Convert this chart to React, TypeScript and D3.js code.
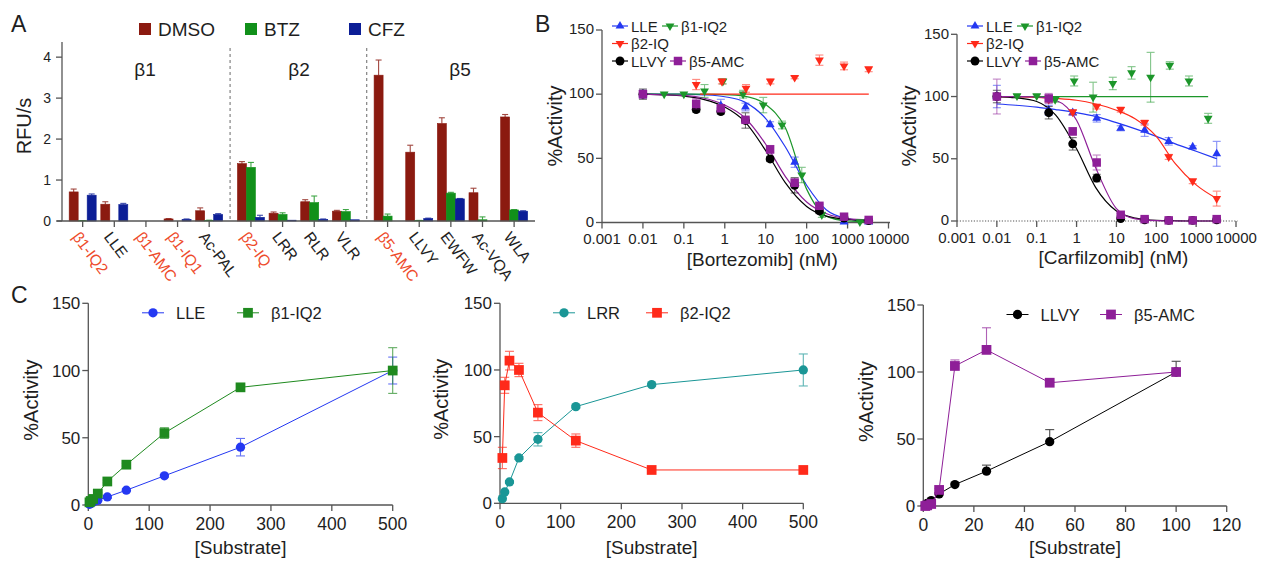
import React from "react";
import * as d3 from "d3";

const FONT = "'Liberation Sans', Arial, Helvetica, sans-serif";
const AXIS = "#555";
const INK = "#1e1e1e";

// ---------- panel A : substrate turnover ----------
const substrates = ["β1-IQ2", "LLE", "β1-AMC", "β1-IQ1", "Ac-PAL", "β2-IQ", "LRR", "RLR", "VLR", "β5-AMC", "LLVY", "EWFW", "Ac-VQA", "WLA"];
const highlighted = ["β1-IQ2", "β1-AMC", "β1-IQ1", "β2-IQ", "β5-AMC"];
const substrateSite = [0, 0, 0, 0, 0, 1, 1, 1, 1, 2, 2, 2, 2, 2];
const sites = ["β1", "β2", "β5"];
const treatments = ["DMSO", "BTZ", "CFZ"];
const treatmentColors = ["#8b1a10", "#11901a", "#0c1e96"];
const dmsoRate = [0.71, 0.41, 0, 0.05, 0.25, 1.4, 0.19, 0.47, 0.24, 3.56, 1.68, 2.38, 0.69, 2.54];
const dmsoErr = [0.07, 0.06, 0, 0.01, 0.07, 0.05, 0.03, 0.05, 0.02, 0.37, 0.17, 0.14, 0.11, 0.06];
const btzRate = [0.005, 0, 0, 0, 0.01, 1.31, 0.16, 0.45, 0.23, 0.12, 0.01, 0.68, 0.03, 0.27];
const btzErr = [0.005, 0, 0, 0, 0.01, 0.12, 0.04, 0.16, 0.05, 0.05, 0.005, 0.02, 0.07, 0.01];
const cfzRate = [0.63, 0.4, 0, 0.04, 0.16, 0.09, 0.02, 0.04, 0.03, 0, 0.06, 0.54, 0, 0.24];
const cfzErr = [0.03, 0.03, 0, 0.01, 0.02, 0.05, 0, 0.01, 0, 0, 0.01, 0.01, 0, 0.01];
const rateTicks = [0, 1, 2, 3, 4];

// ---------- panel B : dose response ----------
const doseTicks = [0.001, 0.01, 0.1, 1, 10, 100, 1000, 10000];
const activityTicks = [0, 50, 100, 150];
const fitGrid = [0.01, 0.03, 0.1, 0.3, 1, 3, 10, 30, 100, 300, 1000, 3300];

const bortConc = [0.01, 0.2, 0.8, 3.2, 12.8, 51, 205, 820, 3280];
const btzLleConc = [0.01, 0.8, 3.2, 12.8, 51, 205, 820, 3280];
const btzLle = [100, 91, 90, 76.5, 47, 12, 0.5, 0.5];
const btzLleErr = [3, 5, 3, 2, 4, 2, 1, 1];
const btzIq2Conc = [0.033, 0.1, 0.32, 0.9, 2.8, 8.7, 25, 76, 235, 2000];
const btzIq2 = [100, 100, 102.5, 110, 100, 91.5, 76, 37, 6, 0.5];
const btzIq2Err = [0.5, 0.5, 5, 2, 3, 6, 3, 6, 2, 0.5];
const btzB2Conc = [0.2, 0.85, 3.3, 13, 51, 205, 820, 3280];
const btzB2 = [107.5, 110, 104.5, 110, 113, 126.5, 122, 119.5];
const btzB2Err = [4, 2, 3, 2, 1, 4, 3, 2];
const btzLlvy = [100, 88, 86.5, 79.5, 49.5, 29, 9, 3.5, 1.5];
const btzLlvyErr = [4, 2, 2, 6, 2, 6, 2, 2, 1];
const btzB5 = [100, 92.5, 89, 80, 57, 31, 13, 4.5, 2];
const btzB5Err = [3, 4, 2, 2, 3, 3, 2, 1, 1];
const btzLleFit = [100, 100, 100, 99.5, 98, 94, 81, 59, 29, 10, 3, 1];
const btzIq2Fit = [100, 100, 100, 100, 99.7, 98.5, 92, 74, 26, 5, 1.2, 0.5];
const btzLlvyFit = [100, 99.5, 98.5, 96, 90, 79, 56, 31, 12.5, 5, 2.5, 1.5];
const btzB5Fit = [100, 99.5, 99, 97, 91.5, 82, 61, 36, 16, 7, 3, 2];
const btzB2FitX = [0.25, 3300];
const btzB2FitY = [100, 100];

const cfzConc = [0.01, 0.2, 0.8, 3.2, 12.8, 51, 205, 820, 3280];
const cfzLle = [100, 89, 87, 82.5, 74.5, 73, 64, 59.5, 54];
const cfzLleErr = [9, 4, 2, 3, 2, 5, 3, 1, 10];
const cfzB2Conc = [0.2, 0.8, 3.2, 12.8, 51, 205, 820, 3280];
const cfzB2 = [97.5, 87.5, 92, 89.5, 79, 51.5, 32, 18];
const cfzB2Err = [2, 2, 2, 2, 2, 2, 2, 6];
const cfzIq2Conc = [0.032, 0.1, 0.29, 0.87, 2.6, 8.1, 24, 72, 218, 660, 2000];
const cfzIq2 = [100.5, 100.5, 97.5, 112.5, 99.5, 110.5, 119, 115.5, 125, 112.5, 82.5];
const cfzIq2Err = [1, 1, 2, 4, 12, 5, 5, 20, 3, 4, 4];
const cfzLlvy = [100, 87, 62, 34.5, 2, 1, 0.5, 0.5, 1];
const cfzLlvyErr = [5, 5, 5, 3, 1, 1, 0.5, 0.5, 0.5];
const cfzB5 = [100, 98.5, 72, 47, 5, 1.5, 0.5, 0.5, 1.5];
const cfzB5Err = [14, 4, 3, 6, 1, 1, 0.5, 0.5, 1];
const cfzLleFit = [94, 93, 91.5, 89.5, 87, 84, 79, 74, 68, 62, 56, 50];
const cfzB2Fit = [100, 99.7, 99.3, 98.5, 97, 94, 89, 82, 68, 46, 29, 18];
const cfzLlvyFit = [100, 99, 96, 85, 58, 27, 8, 2.3, 0.5, 0.2, 0, 0];
const cfzB5Fit = [100, 100, 99.7, 97, 81, 43, 10, 1.7, 0.3, 0, 0, 0];
const cfzIq2FitX = [0.01, 2000];
const cfzIq2FitY = [100, 100];

// ---------- panel C : substrate titration ----------
const subTicks500 = [0, 100, 200, 300, 400, 500];
const subTicks120 = [0, 20, 40, 60, 80, 100, 120];
const c1Conc = [1.95, 3.9, 7.8, 15.6, 31.25, 62.5, 125, 250, 500];
const c1Lle = [0.5, 1, 2, 3.5, 6, 11, 21.7, 43, 100];
const c1LleErr = [0, 0, 0, 0.5, 1, 1, 1, 6.5, 10];
const c1Iq2 = [2, 3, 4.5, 8.5, 17.5, 30, 53.5, 87.5, 100];
const c1Iq2Err = [0, 0, 0, 1, 1, 1, 4, 2, 17];
const c2Conc = [3.9, 7.8, 15.6, 31.25, 62.5, 125, 250, 500];
const c2Lrr = [3.5, 8.5, 16, 34, 48, 72.5, 89, 100];
const c2LrrErr = [0, 0, 1, 1, 5, 1, 1, 12];
const c2B2 = [34, 88.5, 107, 100, 68, 47, 25, 25];
const c2B2Err = [8, 6, 7, 5, 6, 5, 0.5, 0.5];
const c3Conc = [0.78, 1.56, 3.125, 6.25, 12.5, 25, 50, 100];
const c3Llvy = [0.5, 2, 4, 9, 16, 26, 48, 100];
const c3LlvyErr = [0, 0, 0.5, 1, 1, 4.5, 9, 8];
const c3B5 = [0, 0.5, 1.5, 12, 104.5, 116.5, 92, 100];
const c3B5Err = [0, 0, 0, 1, 4.5, 16.5, 1, 1];

const BLUE = "#2438f2";
const GREEN = "#1c962a";
const RED = "#ff2a1a";
const BLACK = "#000";
const PURPLE = "#8e1f98";
const TEAL = "#1a9696";

const zip = (a: number[], b: number[]) => a.map((v, i) => [v, b[i]] as [number, number]);

function Marker({ shape, x, y, color, size }: any) {
  const type = shape === "circle" ? d3.symbolCircle : shape === "square" ? d3.symbolSquare : d3.symbolTriangle;
  const path = d3.symbol().type(type).size(size)() as string;
  const rot = shape === "down" ? 180 : 0;
  return <path d={path} transform={`translate(${x},${y}) rotate(${rot})`} fill={color} />;
}

function ErrBar({ x, y0, y1, color, cap = 8, opacity = 0.75 }: any) {
  return (
    <g stroke={color} strokeWidth={1.1} opacity={opacity}>
      <line x1={x} x2={x} y1={y0} y2={y1} />
      <line x1={x - cap / 2} x2={x + cap / 2} y1={y1} y2={y1} />
    </g>
  );
}

function LeftAxis({ scale, ticks, x, fontSize, gap = 8, dy = "0.36em" }: any) {
  const [r0, r1] = scale.range();
  return (
    <g>
      <line x1={x} x2={x} y1={r0} y2={r1} stroke={AXIS} strokeWidth={1.3} />
      {ticks.map((t: number) => (
        <g key={t}>
          <line x1={x - 6} x2={x} y1={scale(t)} y2={scale(t)} stroke={AXIS} strokeWidth={1.3} />
          <text x={x - gap} y={scale(t)} dy={dy} textAnchor="end" fontSize={fontSize} fill={INK}>{t}</text>
        </g>
      ))}
    </g>
  );
}

function BottomAxis({ scale, ticks, y, fontSize, dotted = false, x0, x1, labelGap = 20.5 }: any) {
  return (
    <g>
      <line x1={x0} x2={x1} y1={y} y2={y} stroke={AXIS} strokeWidth={dotted ? 1.2 : 1.3} strokeDasharray={dotted ? "1.2,1.6" : undefined} />
      {ticks.map((t: number) => (
        <g key={t}>
          <line x1={scale(t)} x2={scale(t)} y1={y} y2={y + 6} stroke={AXIS} strokeWidth={1.3} />
          <text x={scale(t)} y={y + labelGap} textAnchor="middle" fontSize={fontSize} fill={INK}>{String(t)}</text>
        </g>
      ))}
    </g>
  );
}

function PanelA() {
  const slot = (i: number) => i + 0.32 * substrateSite[i];
  const x = d3.scaleLinear().domain([-0.78, 14.3]).range([58, 535]);
  const y = d3.scaleLinear().domain([0, 4.37]).range([221, 42]);
  const inner = d3.scaleBand().domain(treatments).range([-13.5, 13.5]);
  const rates = [dmsoRate, btzRate, cfzRate];
  const errs = [dmsoErr, btzErr, cfzErr];
  const dividers = [4, 8].map((i) => x((slot(i) + slot(i + 1)) / 2));
  const siteLabelX = [145, 299, 460];
  const legendX = [139, 245, 349];
  return (
    <g>
      {treatments.map((t, k) => (
        <g key={t}>
          <rect x={legendX[k]} y={23} width={12} height={12} fill={treatmentColors[k]} />
          <text x={legendX[k] + 19} y={36} fontSize={19} fill={INK}>{t}</text>
        </g>
      ))}
      {sites.map((s, k) => (
        <text key={s} x={siteLabelX[k]} y={76} textAnchor="middle" fontSize={19} fill={INK}>{s}</text>
      ))}
      {dividers.map((dx, k) => (
        <line key={k} x1={dx} x2={dx} y1={48} y2={221} stroke="#777" strokeWidth={1.1} strokeDasharray="3,3" />
      ))}
      {substrates.map((s, i) => (
        <g key={s}>
          {treatments.map((t, k) => {
            const bx = x(slot(i)) + (inner(t) as number);
            const v = rates[k][i];
            const e = errs[k][i];
            return (
              <g key={t}>
                {v > 0 && <rect x={bx} y={y(v)} width={inner.bandwidth()} height={y(0) - y(v)} fill={treatmentColors[k]} stroke={treatmentColors[k]} strokeWidth={0.6} />}
                {e > 0 && <ErrBar x={bx + inner.bandwidth() / 2} y0={y(v)} y1={y(v + e)} color={treatmentColors[k]} cap={6} opacity={0.8} />}
              </g>
            );
          })}
        </g>
      ))}
      <LeftAxis scale={y} ticks={rateTicks} x={62} fontSize={14} gap={11} />
      <line x1={57} x2={535} y1={221} y2={221} stroke={AXIS} strokeWidth={1.3} />
      {substrates.map((s, i) => {
        const tx = x(slot(i));
        return (
          <g key={s}>
            <line x1={tx} x2={tx} y1={221} y2={227} stroke={AXIS} strokeWidth={1.3} />
            <text transform={`translate(${tx - 11},${237}) rotate(53)`} fontSize={15.5} fill={highlighted.includes(s) ? "#ee4b2b" : INK}>{s}</text>
          </g>
        );
      })}
      <text transform="translate(31,126) rotate(-90)" textAnchor="middle" fontSize={20} fill={INK}>RFU/s</text>
    </g>
  );
}

const markerSize = (shape: string) => (shape === "circle" ? 62 : shape === "square" ? 72 : 34);

function DosePanel({ series, xRange, yRange, xLabel, dotted, yLabelX, legendRows }: any) {
  const x = d3.scaleLog().domain([0.001, 10000]).range(xRange);
  const y = d3.scaleLinear().domain([0, 150]).range(yRange);
  const line = d3.line<[number, number]>().x((d) => x(d[0])).y((d) => y(d[1])).curve(d3.curveMonotoneX);
  const ax = xRange[0];
  return (
    <g>
      <LeftAxis scale={y} ticks={activityTicks} x={ax} fontSize={15} gap={8} dy="0.28em" />
      <BottomAxis scale={x} ticks={doseTicks} y={yRange[0]} fontSize={15} dotted={dotted} x0={ax} x1={xRange[1] + 1.5} labelGap={21.5} />
      {series.map((s: any) => (
        <path key={s.name + "fit"} d={line(zip(s.fitX, s.fitY)) as string} fill="none" stroke={s.color} strokeWidth={1.2} />
      ))}
      {series.map((s: any) => (
        <g key={s.name}>
          {s.conc.map((c: number, i: number) => (
            <g key={i}>
              {s.err[i] > 0.6 && <ErrBar x={x(c)} y0={y(s.mean[i] - s.err[i])} y1={y(s.mean[i] + s.err[i])} color={s.color} cap={8} opacity={0.55} />}
              {s.err[i] > 0.6 && <line x1={x(c) - 4} x2={x(c) + 4} y1={y(s.mean[i] - s.err[i])} y2={y(s.mean[i] - s.err[i])} stroke={s.color} strokeWidth={1.1} opacity={0.55} />}
            </g>
          ))}
          {s.conc.map((c: number, i: number) => (
            <Marker key={i} shape={s.shape} x={x(c)} y={y(s.mean[i])} color={s.color} size={markerSize(s.shape)} />
          ))}
        </g>
      ))}
      {legendRows.map((row: any, r: number) =>
        row.items.map((idx: number, k: number) => {
          const s = series[idx];
          const mx = ax + row.offsets[k];
          const my = 26 + r * 17.5;
          return (
            <g key={s.name}>
              <line x1={mx - 8} x2={mx + 8} y1={my} y2={my} stroke={s.color} strokeWidth={1.2} />
              <Marker shape={s.shape} x={mx} y={my} color={s.color} size={markerSize(s.shape)} />
              <text x={mx + 11} y={my + 5.5} fontSize={15} fill={INK}>{s.name}</text>
            </g>
          );
        })
      )}
      <text transform={`translate(${yLabelX},126) rotate(-90)`} textAnchor="middle" fontSize={20} fill={INK}>%Activity</text>
      <text x={(xRange[0] + xRange[1]) / 2 + 17} y={yRange[0] + 43} textAnchor="middle" fontSize={19} fill={INK}>{xLabel}</text>
    </g>
  );
}

function SubstratePanel({ series, xMax, xTicks, xRange, yRange, yLabelX, legend, oneSided }: any) {
  const x = d3.scaleLinear().domain([0, xMax]).range(xRange);
  const y = d3.scaleLinear().domain([0, 150]).range(yRange);
  const line = d3.line<[number, number]>().x((d) => x(d[0])).y((d) => y(d[1]));
  const ax = xRange[0];
  return (
    <g>
      <LeftAxis scale={y} ticks={activityTicks} x={ax} fontSize={17} gap={8} />
      <BottomAxis scale={x} ticks={xTicks} y={yRange[0]} fontSize={17.5} x0={ax} x1={xRange[1]} labelGap={24.5} />
      {series.map((s: any) => (
        <g key={s.name}>
          <path d={line(zip(s.conc, s.mean)) as string} fill="none" stroke={s.color} strokeWidth={1} />
          {s.conc.map((c: number, i: number) =>
            s.err[i] > 0.6 ? (
              <g key={i}>
                <ErrBar x={x(c)} y0={y(s.mean[i])} y1={y(s.mean[i] + s.err[i])} color={s.color} cap={9} opacity={0.7} />
                {!oneSided && <ErrBar x={x(c)} y0={y(s.mean[i])} y1={y(s.mean[i] - s.err[i])} color={s.color} cap={9} opacity={0.7} />}
              </g>
            ) : null
          )}
          {s.conc.map((c: number, i: number) => (
            <Marker key={"m" + i} shape={s.shape} x={x(c)} y={y(s.mean[i])} color={s.color} size={s.shape === "circle" ? 68 : 95} />
          ))}
        </g>
      ))}
      {series.map((s: any, k: number) => {
        const mx = legend[k];
        const my = yRange[1] + 9.5;
        return (
          <g key={"lg" + s.name}>
            <line x1={mx - 11} x2={mx + 11} y1={my} y2={my} stroke={s.color} strokeWidth={1} />
            <Marker shape={s.shape} x={mx} y={my} color={s.color} size={s.shape === "circle" ? 68 : 95} />
            <text x={mx + 23} y={my + 6} fontSize={16.5} fill={INK}>{s.name}</text>
          </g>
        );
      })}
      <text transform={`translate(${yLabelX},${(yRange[0] + yRange[1]) / 2 - 4}) rotate(-90)`} textAnchor="middle" fontSize={20} fill={INK}>%Activity</text>
      <text x={(xRange[0] + xRange[1]) / 2} y={554} textAnchor="middle" fontSize={19} fill={INK}>[Substrate]</text>
    </g>
  );
}

export default function App() {
  const bortSeries = [
    { name: "LLE", color: BLUE, shape: "up", conc: btzLleConc, mean: btzLle, err: btzLleErr, fitX: fitGrid, fitY: btzLleFit },
    { name: "β1-IQ2", color: GREEN, shape: "down", conc: btzIq2Conc, mean: btzIq2, err: btzIq2Err, fitX: fitGrid, fitY: btzIq2Fit },
    { name: "β2-IQ", color: RED, shape: "down", conc: btzB2Conc, mean: btzB2, err: btzB2Err, fitX: btzB2FitX, fitY: btzB2FitY },
    { name: "LLVY", color: BLACK, shape: "circle", conc: bortConc, mean: btzLlvy, err: btzLlvyErr, fitX: fitGrid, fitY: btzLlvyFit },
    { name: "β5-AMC", color: PURPLE, shape: "square", conc: bortConc, mean: btzB5, err: btzB5Err, fitX: fitGrid, fitY: btzB5Fit },
  ];
  const carfSeries = [
    { name: "LLE", color: BLUE, shape: "up", conc: cfzConc, mean: cfzLle, err: cfzLleErr, fitX: fitGrid, fitY: cfzLleFit },
    { name: "β1-IQ2", color: GREEN, shape: "down", conc: cfzIq2Conc, mean: cfzIq2, err: cfzIq2Err, fitX: cfzIq2FitX, fitY: cfzIq2FitY },
    { name: "β2-IQ", color: RED, shape: "down", conc: cfzB2Conc, mean: cfzB2, err: cfzB2Err, fitX: fitGrid, fitY: cfzB2Fit },
    { name: "LLVY", color: BLACK, shape: "circle", conc: cfzConc, mean: cfzLlvy, err: cfzLlvyErr, fitX: fitGrid, fitY: cfzLlvyFit },
    { name: "β5-AMC", color: PURPLE, shape: "square", conc: cfzConc, mean: cfzB5, err: cfzB5Err, fitX: fitGrid, fitY: cfzB5Fit },
  ];
  const legendRows = [
    { items: [0, 1], offsets: [18, 68] },
    { items: [2], offsets: [18] },
    { items: [3, 4], offsets: [18, 76] },
  ];
  return (
    <svg width={1262} height={561} viewBox="0 0 1262 561" fontFamily={FONT} style={{ position: "absolute", left: 0, top: 0, background: "#fff" }}>
      <rect width={1262} height={561} fill="#fff" />
      <PanelA />
      <DosePanel series={bortSeries} xRange={[602, 888.5]} yRange={[222.5, 30]} xLabel="[Bortezomib] (nM)" dotted={false} yLabelX={562} legendRows={legendRows} />
      <DosePanel series={carfSeries} xRange={[957, 1236]} yRange={[221, 34.3]} xLabel="[Carfilzomib] (nM)" dotted={true} yLabelX={916} legendRows={legendRows} />
      <SubstratePanel
        series={[
          { name: "LLE", color: BLUE, shape: "circle", conc: c1Conc, mean: c1Lle, err: c1LleErr },
          { name: "β1-IQ2", color: "#1f8a1f", shape: "square", conc: c1Conc, mean: c1Iq2, err: c1Iq2Err },
        ]}
        xMax={500} xTicks={subTicks500} xRange={[88.3, 392.7]} yRange={[505, 303.3]} yLabelX={38} legend={[153, 248]} oneSided={false}
      />
      <SubstratePanel
        series={[
          { name: "LRR", color: TEAL, shape: "circle", conc: c2Conc, mean: c2Lrr, err: c2LrrErr },
          { name: "β2-IQ2", color: RED, shape: "square", conc: c2Conc, mean: c2B2, err: c2B2Err },
        ]}
        xMax={500} xTicks={subTicks500} xRange={[500, 803.3]} yRange={[503.3, 303.3]} yLabelX={448} legend={[564, 657]} oneSided={false}
      />
      <SubstratePanel
        series={[
          { name: "LLVY", color: BLACK, shape: "circle", conc: c3Conc, mean: c3Llvy, err: c3LlvyErr },
          { name: "β5-AMC", color: PURPLE, shape: "square", conc: c3Conc, mean: c3B5, err: c3B5Err },
        ]}
        xMax={120} xTicks={subTicks120} xRange={[923.3, 1226.7]} yRange={[506, 305]} yLabelX={873} legend={[1017.5, 1111]} oneSided={true}
      />
      <text x={11} y={32} fontSize={23} fill={INK}>A</text>
      <text x={535} y={32} fontSize={23} fill={INK}>B</text>
      <text x={11} y={303} fontSize={23} fill={INK}>C</text>
    </svg>
  );
}
